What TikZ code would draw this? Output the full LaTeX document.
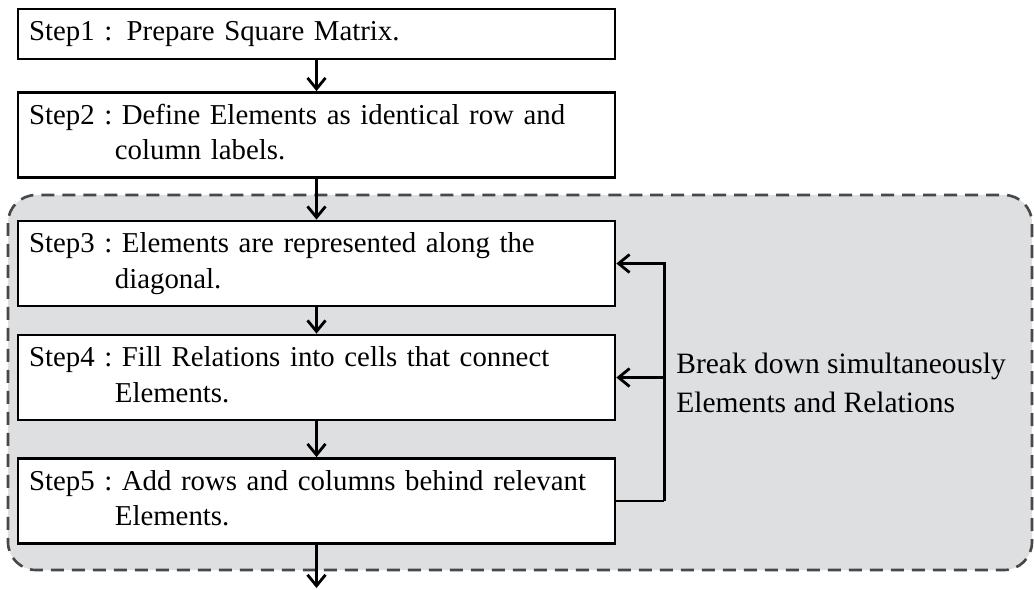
\documentclass[tikz,border=0pt]{standalone}
\usepackage{fontspec}
\setmainfont{Liberation Serif}
\usetikzlibrary{arrows.meta}

\definecolor{groupgray}{HTML}{DEDFE1}
\definecolor{dashgray}{HTML}{484848}
\newcommand{\steptext}[3]{\begin{tabular}{@{}l@{\ }l@{}}#1 : & #2\\ & \hspace{-0.14cm}#3\end{tabular}}

\tikzset{
  stepbox/.style={draw=black, fill=white, line width=1.6pt, minimum width=11.94cm,
    text width=11.5cm, inner xsep=0.22cm, align=left, font=\fontsize{16.4}{20}\selectfont},
  group/.style={draw=dashgray, fill=groupgray, line width=1.5pt,
    dash pattern=on 0.26cm off 0.16cm, rounded corners=0.56cm},
  flow/.style={line width=1.6pt, -{Straight Barb[length=2.2mm,width=3.6mm]}},
  note/.style={align=left, inner sep=0pt, font=\fontsize{16.8}{22.2}\selectfont},
}

\begin{document}
\begin{tikzpicture}[x=0.02cm,y=-0.02cm]
\useasboundingbox (0,0) rectangle (1034,589);
% grey block round steps 3-5
\draw[group] (8,195) rectangle (1032,570);

\node[stepbox, minimum height=1cm] (s1) at (316.5,34) {Step1 : Prepare Square Matrix.};
\node[stepbox, minimum height=1.7cm] (s2) at (316.5,135)
  {\steptext{Step2}{Define Elements as identical row and}{column labels.}};
\node[stepbox, minimum height=1.7cm] (s3) at (316.5,263.5)
  {\steptext{Step3}{Elements are represented along the}{diagonal.}};
\node[stepbox, minimum height=1.7cm] (s4) at (316.5,377.5)
  {\steptext{Step4}{Fill Relations into cells that connect}{Elements.}};
\node[stepbox, minimum height=1.7cm] (s5) at (316.5,501)
  {\steptext{Step5}{Add rows and columns behind relevant}{Elements.}};
\node[note, anchor=west] (note) at (676,383) {Break down simultaneously\\Elements and Relations};
\coordinate (out) at (316.5,588);

\draw[flow] (s1) -- (s2);
\draw[flow] (s2) -- (s3);
\draw[flow] (s3) -- (s4);
\draw[flow] (s4) -- (s5);
\draw[flow] (s5) -- (out);

% feedback loop
\draw[line width=1.6pt] (s5.east) -- ++(48,0) coordinate (back);
\draw[flow] (back) |- (s3.east);
\draw[flow] (back |- s4.east) -- (s4.east);
\end{tikzpicture}
\end{document}
